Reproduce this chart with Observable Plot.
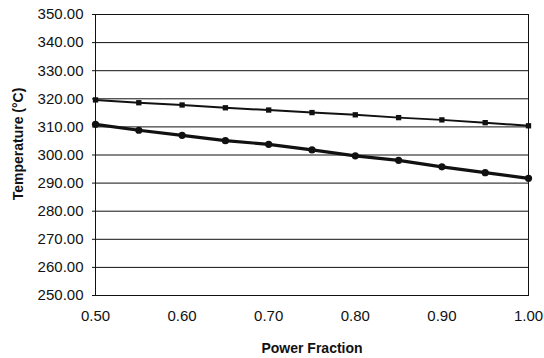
<!DOCTYPE html>
<html>
<head>
<meta charset="utf-8">
<script src="https://cdn.jsdelivr.net/npm/d3@7"></script>
<script src="https://cdn.jsdelivr.net/npm/@observablehq/plot@0.6"></script>
<style>
  html, body { margin: 0; padding: 0; background: #fff; }
  #chart svg { display: block; }
</style>
</head>
<body>
<div id="chart"></div>
<script>
const powerFraction = [0.50, 0.55, 0.60, 0.65, 0.70, 0.75, 0.80, 0.85, 0.90, 0.95, 1.00];
const upperTemp = [319.6, 318.6, 317.8, 316.8, 316.0, 315.1, 314.3, 313.3, 312.5, 311.5, 310.4];
const lowerTemp = [310.9, 308.8, 307.0, 305.1, 303.8, 301.8, 299.7, 298.1, 295.8, 293.7, 291.7];
const xTicks = [0.5, 0.6, 0.7, 0.8, 0.9, 1.0];
const yTicks = [250, 260, 270, 280, 290, 300, 310, 320, 330, 340, 350];
const xTitle = "Power Fraction";
const yTitle = "Temperature (°C)";

const upper = powerFraction.map((x, i) => ({x, y: upperTemp[i]}));
const lower = powerFraction.map((x, i) => ({x, y: lowerTemp[i]}));
const fmt = d3.format(".2f");

const chart = Plot.plot({
  width: 544,
  height: 358,
  marginLeft: 95,
  marginRight: 16,
  marginTop: 14,
  marginBottom: 63,
  style: {fontFamily: "'Liberation Sans', Arial, sans-serif", fontSize: "15px", color: "#111", background: "#fff"},
  x: {domain: [0.5, 1.0]},
  y: {domain: [250, 350]},
  marks: [
    Plot.ruleY(yTicks, {stroke: "#111", strokeWidth: 1}),
    Plot.frame({stroke: "#111", strokeWidth: 1}),
    Plot.axisX({ticks: xTicks, tickFormat: fmt, tickSize: 0, tickPadding: 15, label: null, fontSize: 15}),
    Plot.axisY({ticks: yTicks, tickFormat: fmt, tickSize: 3, tickPadding: 9, label: null, fontSize: 15}),
    Plot.line(upper, {x: "x", y: "y", stroke: "#111", strokeWidth: 2}),
    Plot.dot(upper, {x: "x", y: "y", symbol: "square", r: 3, fill: "#111", stroke: "none"}),
    Plot.line(lower, {x: "x", y: "y", stroke: "#111", strokeWidth: 3.2}),
    Plot.dot(lower, {x: "x", y: "y", r: 3.6, fill: "#111", stroke: "none"}),
    Plot.text([xTitle], {frameAnchor: "bottom", text: d => d, dy: 53, lineAnchor: "middle", fontWeight: "bold", fontSize: 14, letterSpacing: "0.3px", fill: "#111"}),
    Plot.text([yTitle], {frameAnchor: "left", text: d => d, rotate: -90, dx: -77, dy: -11, textAnchor: "middle", lineAnchor: "middle", fontWeight: "bold", fontSize: 14, fill: "#111"})
  ]
});
document.getElementById("chart").appendChild(chart);
</script>
</body>
</html>
